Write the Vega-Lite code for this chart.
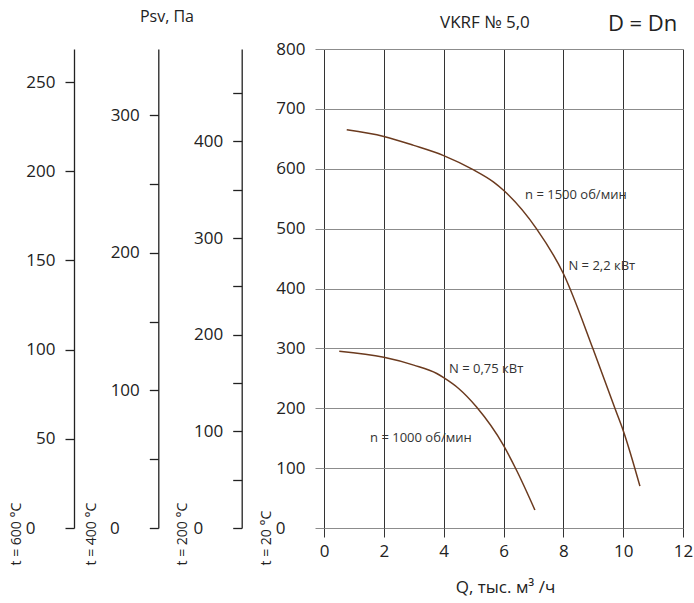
{
  "$schema": "https://vega.github.io/schema/vega-lite/v6.json",
  "width": 359,
  "height": 479,
  "autosize": "none",
  "padding": {"left": 324, "top": 49, "right": 11, "bottom": 75},
  "background": "white",
  "config": {
    "view": {"stroke": null},
    "font": "Open Sans",
    "axis": {
      "labelFont": "Open Sans",
      "labelFontSize": 17,
      "labelColor": "#222222",
      "titleFont": "Open Sans",
      "titleFontWeight": "normal",
      "titleColor": "#222222",
      "labelFlush": false,
      "labelOverlap": false
    }
  },
  "datasets": {
    "curves": [
      {"n": "1500", "Q": 0.76, "P": 665},
      {"n": "1500", "Q": 2.0, "P": 654},
      {"n": "1500", "Q": 3.0, "P": 639},
      {"n": "1500", "Q": 4.0, "P": 622},
      {"n": "1500", "Q": 5.0, "P": 598},
      {"n": "1500", "Q": 5.66, "P": 578},
      {"n": "1500", "Q": 6.0, "P": 564},
      {"n": "1500", "Q": 7.1, "P": 500},
      {"n": "1500", "Q": 8.0, "P": 425},
      {"n": "1500", "Q": 9.0, "P": 298},
      {"n": "1500", "Q": 9.73, "P": 199},
      {"n": "1500", "Q": 10.0, "P": 163},
      {"n": "1500", "Q": 10.56, "P": 70},
      {"n": "1000", "Q": 0.51, "P": 295},
      {"n": "1000", "Q": 2.0, "P": 285},
      {"n": "1000", "Q": 3.0, "P": 272},
      {"n": "1000", "Q": 3.77, "P": 258},
      {"n": "1000", "Q": 4.0, "P": 251},
      {"n": "1000", "Q": 4.5, "P": 233},
      {"n": "1000", "Q": 5.1, "P": 202},
      {"n": "1000", "Q": 6.0, "P": 138},
      {"n": "1000", "Q": 6.44, "P": 96},
      {"n": "1000", "Q": 7.05, "P": 30}
    ],
    "notes": [
      {"Q": 6.72, "P": 556, "label": "n = 1500 об/мин"},
      {"Q": 8.17, "P": 437, "label": "N = 2,2 кВт"},
      {"Q": 4.18, "P": 265, "label": "N = 0,75 кВт"},
      {"Q": 1.54, "P": 150, "label": "n = 1000 об/мин"}
    ],
    "header": [
      {"Q": 5.38, "P": 843, "label": "VKRF № 5,0"}
    ],
    "header2": [
      {"Q": 10.65, "P": 841, "label": "D = Dn"}
    ],
    "unit": [
      {"Q": -5.25, "P": 853, "label": "Psv, Па"}
    ]
  },
  "layer": [
    {
      "layer": [
        {
          "data": {"name": "curves"},
          "mark": {"type": "line", "interpolate": "monotone", "color": "#6b3a1e", "strokeWidth": 1.5},
          "encoding": {
            "x": {
              "field": "Q", "type": "quantitative",
              "scale": {"domain": [0, 12], "nice": false},
              "axis": {
                "values": [0, 2, 4, 6, 8, 10, 12],
                "grid": true, "gridColor": "#333333", "gridWidth": 1,
                "domain": false,
                "tickColor": "#333333", "tickSize": 9,
                "labelPadding": 6,
                "title": "Q, тыс. м³ /ч",
                "titleFontSize": 17,
                "titleX": 181, "titleY": 64,
                "titleAlign": "center", "titleBaseline": "alphabetic"
              }
            },
            "y": {
              "field": "P", "type": "quantitative",
              "scale": {"domain": [0, 800], "nice": false},
              "axis": {
                "orient": "left",
                "values": [0, 100, 200, 300, 400, 500, 600, 700, 800],
                "grid": true, "gridColor": "#8c8c8c", "gridWidth": 1,
                "domain": false,
                "tickColor": "#8c8c8c", "tickSize": 9,
                "labelPadding": {"condition": {"test": "datum.value === 0", "value": 30}, "value": 10},
                "title": "t = 20 °C",
                "titleFontSize": 14,
                "titleAngle": 270,
                "titleX": -58, "titleY": 516,
                "titleAlign": "left", "titleBaseline": "middle"
              }
            },
            "detail": {"field": "n"}
          }
        },
        {
          "data": {"name": "notes"},
          "mark": {"type": "text", "align": "left", "baseline": "middle", "fontSize": 13, "font": "Open Sans", "color": "#333333"},
          "encoding": {
            "x": {"field": "Q", "type": "quantitative"},
            "y": {"field": "P", "type": "quantitative"},
            "text": {"field": "label"}
          }
        },
        {
          "data": {"name": "header"},
          "mark": {"type": "text", "align": "center", "baseline": "middle", "fontSize": 17, "font": "Open Sans", "color": "#222222"},
          "encoding": {
            "x": {"field": "Q", "type": "quantitative"},
            "y": {"field": "P", "type": "quantitative"},
            "text": {"field": "label"}
          }
        },
        {
          "data": {"name": "header2"},
          "mark": {"type": "text", "align": "center", "baseline": "middle", "fontSize": 22, "font": "Open Sans", "color": "#222222"},
          "encoding": {
            "x": {"field": "Q", "type": "quantitative"},
            "y": {"field": "P", "type": "quantitative"},
            "text": {"field": "label"}
          }
        },
        {
          "data": {"name": "unit"},
          "mark": {"type": "text", "align": "center", "baseline": "middle", "fontSize": 16, "font": "Open Sans", "color": "#222222"},
          "encoding": {
            "x": {"field": "Q", "type": "quantitative"},
            "y": {"field": "P", "type": "quantitative"},
            "text": {"field": "label"}
          }
        }
      ]
    },
    {
      "data": {"values": [{"P": 0}]},
      "mark": {"type": "rule", "opacity": 0},
      "encoding": {
        "y": {
          "field": "P", "type": "quantitative",
          "scale": {"domain": [0, 495.6], "nice": false},
          "axis": {
            "orient": "left", "offset": 82.3,
            "values": [0, 50, 100, 150, 200, 250, 300, 350, 400, 450],
            "labelExpr": "datum.value % 100 === 0 ? datum.label : ''",
            "grid": false,
            "domain": true, "domainColor": "#222222", "domainWidth": 1.3,
            "tickColor": "#222222", "tickSize": 9, "tickWidth": 1.3,
            "labelPadding": {"condition": {"test": "datum.value === 0", "value": 30}, "value": 10},
            "title": "t = 200 °C",
            "titleFontSize": 14,
            "titleAngle": 270,
            "titleX": -59, "titleY": 516,
            "titleAlign": "left", "titleBaseline": "middle"
          }
        }
      }
    },
    {
      "data": {"values": [{"P": 0}]},
      "mark": {"type": "rule", "opacity": 0},
      "encoding": {
        "y": {
          "field": "P", "type": "quantitative",
          "scale": {"domain": [0, 348.3], "nice": false},
          "axis": {
            "orient": "left", "offset": 165.7,
            "values": [0, 50, 100, 150, 200, 250, 300],
            "labelExpr": "datum.value % 100 === 0 ? datum.label : ''",
            "grid": false,
            "domain": true, "domainColor": "#222222", "domainWidth": 1.3,
            "tickColor": "#222222", "tickSize": 9, "tickWidth": 1.3,
            "labelPadding": {"condition": {"test": "datum.value === 0", "value": 30}, "value": 10},
            "title": "t = 400 °C",
            "titleFontSize": 14,
            "titleAngle": 270,
            "titleX": -67, "titleY": 516,
            "titleAlign": "left", "titleBaseline": "middle"
          }
        }
      }
    },
    {
      "data": {"values": [{"P": 0}]},
      "mark": {"type": "rule", "opacity": 0},
      "encoding": {
        "y": {
          "field": "P", "type": "quantitative",
          "scale": {"domain": [0, 268.5], "nice": false},
          "axis": {
            "orient": "left", "offset": 250,
            "values": [0, 50, 100, 150, 200, 250],
            "grid": false,
            "domain": true, "domainColor": "#222222", "domainWidth": 1.3,
            "tickColor": "#222222", "tickSize": 9, "tickWidth": 1.3,
            "labelPadding": {"condition": {"test": "datum.value === 0", "value": 30}, "value": 10},
            "title": "t = 600 °C",
            "titleFontSize": 14,
            "titleAngle": 270,
            "titleX": -58, "titleY": 516,
            "titleAlign": "left", "titleBaseline": "middle"
          }
        }
      }
    }
  ],
  "resolve": {"scale": {"y": "independent"}}
}
